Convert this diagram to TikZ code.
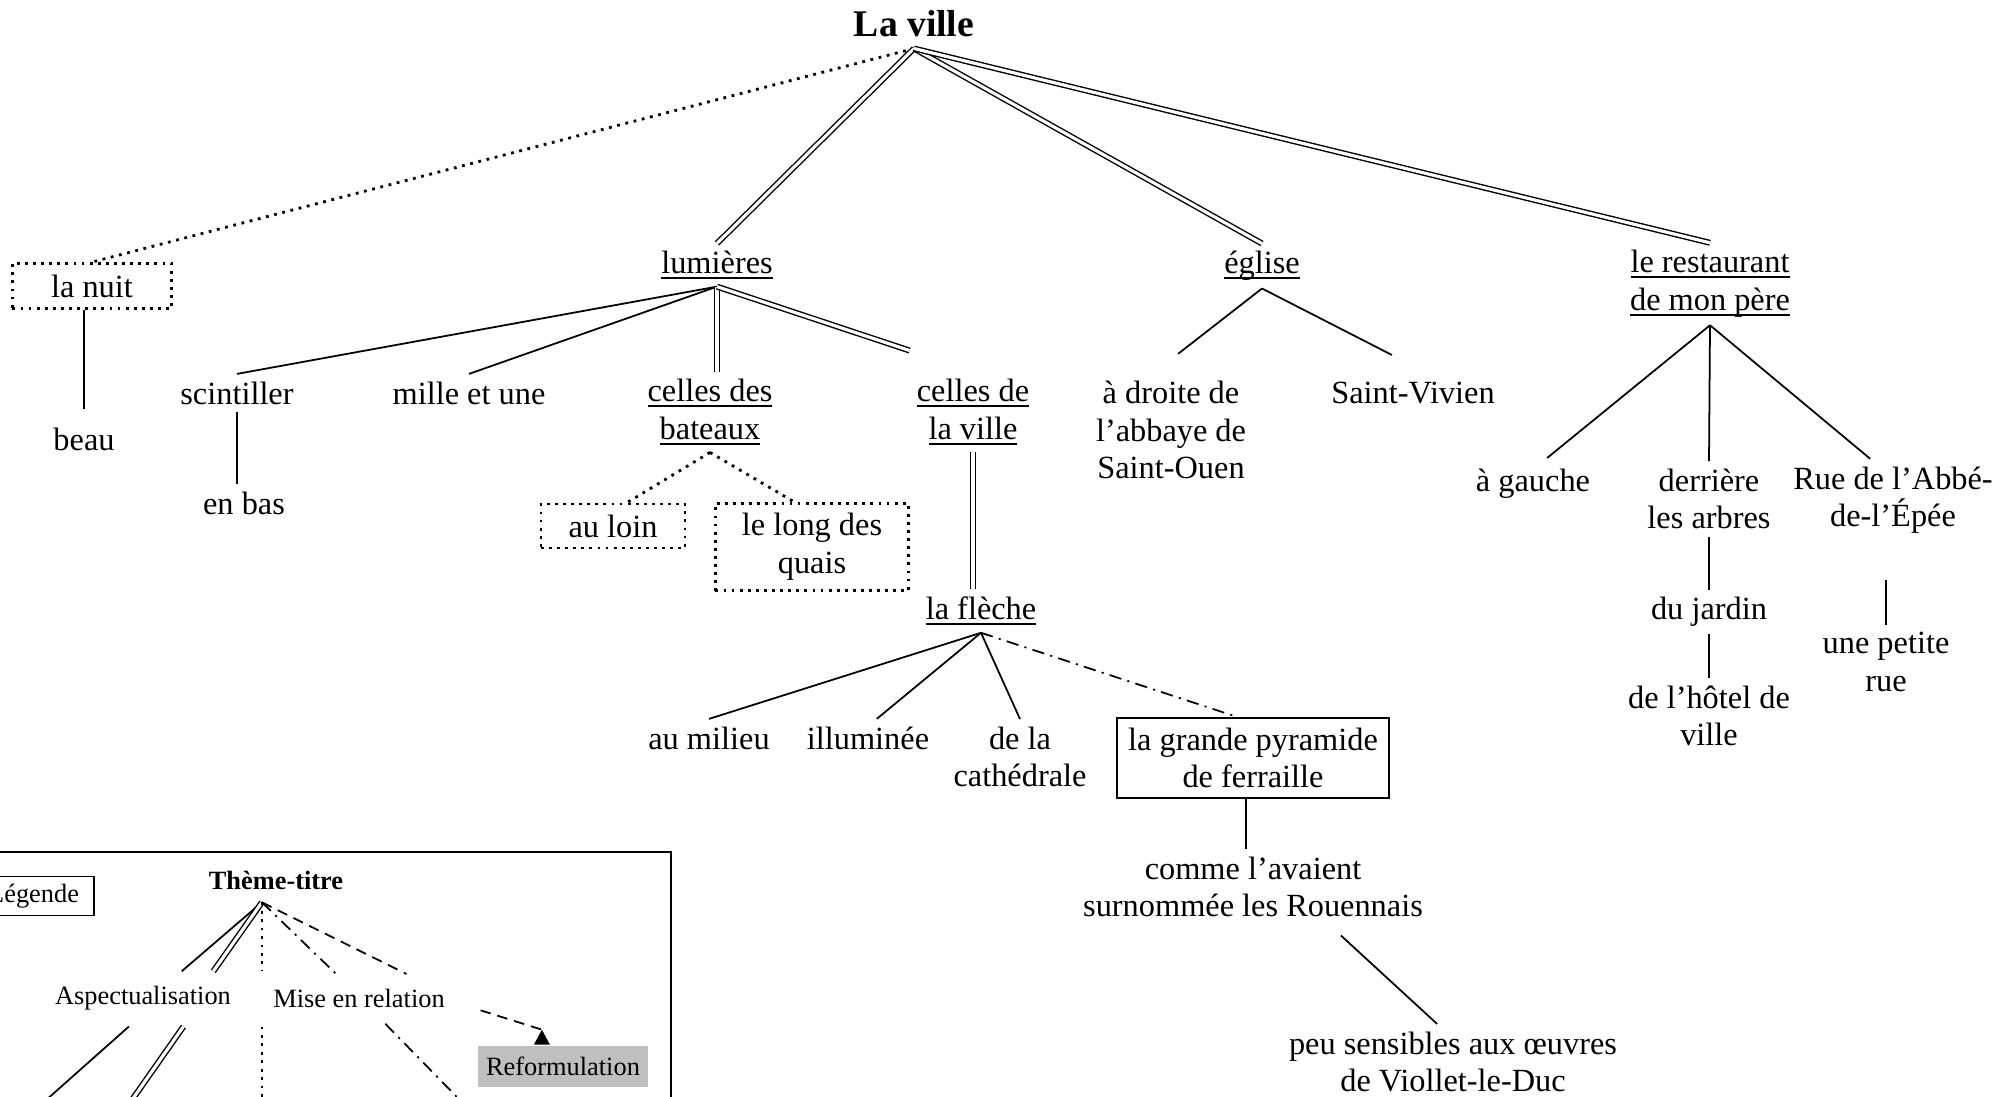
\documentclass[tikz,border=0pt]{standalone}
\usepackage{fontspec}
\setmainfont{Liberation Serif}
\usetikzlibrary{positioning}

\newcommand{\ulword}[1]{\leavevmode\setbox0=\hbox{#1}\rlap{\vrule width \wd0 height -0.9pt depth 1.5pt}\box0}

\begin{document}
\begin{tikzpicture}[x=0.01cm, y=-0.01cm,
  lbl/.style={font=\fontsize{9.2}{10.7}\selectfont, align=center, inner sep=2pt},
  leg/.style={font=\fontsize{7.5}{9}\selectfont, align=center, inner sep=2pt},
  dotbox/.style={draw, line width=0.8pt, dash pattern=on 0.8pt off 1.5pt},
  solidln/.style={line width=0.5pt},
  dblln/.style={double, line width=0.4pt, double distance=0.9pt},
  dotln/.style={line width=0.8pt, dash pattern=on 0.8pt off 1.6pt},
  dashdotln/.style={line width=0.5pt, dash pattern=on 3.5pt off 1.8pt on 0.6pt off 1.8pt},
  dashln/.style={line width=0.5pt, dash pattern=on 3pt off 2pt}]
  \useasboundingbox (0,0) rectangle (2000,1096);
  \clip (0,0) rectangle (2000,1096);
  % root
  \node[font=\bfseries\fontsize{10.7}{12}\selectfont, inner sep=3pt] (ville) at (914,24) {La ville};
  % first level
  \node[lbl, dotbox, minimum width=1.59cm, minimum height=0.45cm] (nuit) at (92,286) {la nuit};
  \node[lbl] (lum) at (717,265) {\ulword{lumières}};
  \node[lbl] (eglise) at (1262,266) {\ulword{église}};
  \node[lbl] (resto) at (1710,284) {\ulword{le restaurant}\\\ulword{de mon père}};
  \draw[dotln] (ville.south) -- (nuit.north);
  \draw[dblln] (ville.south) -- (lum.north);
  \draw[dblln] (ville.south) -- (eglise.north);
  \draw[dblln] (ville.south) -- (resto.north);
  % la nuit
  \node[lbl] (beau) at (84,439) {beau};
  \draw[solidln, shorten >=3pt] (beau.north |- nuit.south) -- (beau.north);
  % lumieres
  \node[lbl] (scint) at (237,393) {scintiller};
  \node[lbl] (enbas) at (244,503) {en bas};
  \node[lbl] (mille) at (469,393) {mille et une};
  \node[lbl] (cdb) at (710,412) {\ulword{celles des}\\\ulword{bateaux}};
  \node[lbl] (cdv) at (973,412) {\ulword{celles de}\\\ulword{la ville}};
  \draw[solidln] (lum.south) -- (scint.north);
  \draw[solidln] (lum.south) -- (mille.north);
  \draw[dblln] (lum.south) -- (lum.south |- cdb.north);
  \draw[dblln, shorten >=19pt] (lum.south) -- (cdv.north);
  \draw[solidln] (scint.south) -- (scint.south |- enbas.north);
  % celles des bateaux
  \node[lbl, dotbox, minimum width=1.44cm, minimum height=0.44cm] (loin) at (613,526) {au loin};
  \node[lbl, dotbox, minimum width=1.93cm, minimum height=0.87cm] (quais) at (812,547) {le long des\\quais};
  \draw[dotln] (cdb.south) -- ([xshift=4pt]loin.north);
  \draw[dotln] (cdb.south) -- ([xshift=-5pt]quais.north);
  % celles de la ville
  \node[lbl] (fleche) at (981,611) {\ulword{la flèche}};
  \draw[dblln] (cdv.south) -- (cdv.south |- fleche.north);
  \node[lbl] (milieu) at (709,738) {au milieu};
  \node[lbl] (illum) at (868,738) {illuminée};
  \node[lbl] (cath) at (1020,757) {de la\\cathédrale};
  \node[lbl, draw, line width=0.6pt, minimum width=2.72cm, minimum height=0.8cm] (pyr) at (1253,758) {la grande pyramide\\de ferraille};
  \draw[solidln] (fleche.south) -- (milieu.north);
  \draw[solidln] (fleche.south) -- ([xshift=2.5pt]illum.north);
  \draw[solidln] (fleche.south) -- (cath.north);
  \draw[dashdotln] (fleche.south) -- ([xshift=-4.5pt]pyr.north);
  % la grande pyramide
  \node[lbl] (comme) at (1253,887) {comme l’avaient\\surnommée les Rouennais};
  \node[lbl] (peu) at (1453,1062) {peu sensibles aux œuvres\\de Viollet-le-Duc};
  \draw[solidln] ([xshift=-2pt]pyr.south) -- ([xshift=-2pt]comme.north);
  \draw[solidln] ([xshift=25pt,yshift=-3pt]comme.south) -- ([xshift=-4.5pt]peu.north);
  % eglise
  \node[lbl, inner ysep=7.5pt] (droite) at (1171,430) {à droite de\\l’abbaye de\\Saint-Ouen};
  \node[lbl, inner ysep=7.5pt] (vivien) at (1413,393) {Saint-Vivien};
  \draw[solidln] (eglise.south) -- ([xshift=2pt]droite.north);
  \draw[solidln] (eglise.south) -- ([xshift=-6pt]vivien.north);
  % restaurant
  \node[lbl] (gauche) at (1533,484) {à gauche};
  \node[lbl] (arbres) at (1709,499) {derrière\\les arbres};
  \node[lbl] (rue) at (1893,500) {Rue de l’Abbé-\\de-l’Épée};
  \node[lbl] (jardin) at (1709,612) {du jardin};
  \node[lbl] (hotel) at (1709,716) {de l’hôtel de\\ville};
  \node[lbl] (petite) at (1886,662) {une petite\\rue};
  \draw[solidln] (resto.south) -- ([xshift=4pt,yshift=1pt]gauche.north);
  \draw[solidln] (resto.south) -- (arbres.north);
  \draw[solidln] (resto.south) -- ([xshift=-6.5pt]rue.north);
  \draw[solidln] (arbres.south) -- (jardin.north);
  \draw[solidln] (jardin.south) -- (hotel.north);
  \draw[solidln, shorten <=11pt] (petite.north |- rue.south) -- (petite.north);
  % legend
  \draw[line width=0.6pt] (-20,852) rectangle (671,1130);
  \node[leg, draw, line width=0.5pt, anchor=east, inner xsep=4.3pt, minimum height=0.39cm] (legende) at (95,896) {Légende};
  \node[leg, font=\bfseries\fontsize{7.5}{9}\selectfont] (theme) at (276,880) {Thème-titre};
  \coordinate (themeA) at ([xshift=-4pt,yshift=-1.5pt]theme.south);
  \node[leg] (aspect) at (143,998) {Aspectualisation};
  \node[leg] (mise) at (359,998) {Mise en relation};
  \node[leg, fill=black!25, minimum width=1.69cm, minimum height=0.41cm] (reform) at (563,1066) {Reformulation};
  \draw[solidln] (themeA) -- ([xshift=11pt,yshift=2pt]aspect.north);
  \draw[dblln] (themeA) -- ([xshift=20pt,yshift=2pt]aspect.north);
  \draw[dotln] (themeA) -- ([yshift=2pt]themeA |- aspect.north);
  \draw[dashdotln] (themeA) -- ([xshift=-6.5pt,yshift=2pt]mise.north);
  \draw[dashln] (themeA) -- ([xshift=13.5pt,yshift=2pt]mise.north);
  \draw[solidln] ([xshift=-4pt,yshift=-2.5pt]aspect.south) -- ++(-98,87);
  \draw[dblln] ([xshift=11.5pt,yshift=-2.5pt]aspect.south) -- ++(-61,87);
  \draw[dotln] ([yshift=-2.5pt]themeA |- aspect.south) -- ++(0,87);
  \draw[dashdotln] ([xshift=7.5pt,yshift=-2.5pt]mise.south) -- ++(85,87);
  \draw[dashln] ([xshift=8pt,yshift=-3.5pt]mise.east) -- ([xshift=-6pt,yshift=4.3pt]reform.north);
  \fill ([xshift=-6pt,yshift=4.3pt]reform.north) -- ++(-8,15) -- ++(16,0) -- cycle;
\end{tikzpicture}
\end{document}
